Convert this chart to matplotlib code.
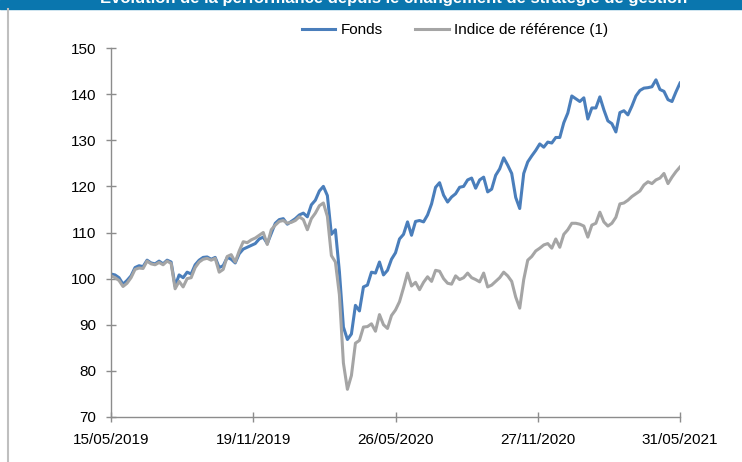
import matplotlib

matplotlib.use("Agg")

import matplotlib.pyplot as plt
from matplotlib.lines import Line2D
from matplotlib.patches import Rectangle
import numpy as np

# Values, one sample roughly every 4 px along the x axis
FONDS = [
    101.0, 100.8, 100.2, 98.8, 99.6, 100.6, 102.4, 102.8, 102.6, 104.0,
    103.4, 103.2, 103.8, 103.2, 104.0, 103.6, 98.4, 100.8, 100.2, 101.4,
    101.0, 103.0, 104.0, 104.6, 104.7, 104.2, 104.6, 102.4, 102.8, 104.6,
    104.2, 103.4, 105.4, 106.4, 106.8, 107.2, 107.6, 108.6, 109.0, 107.6,
    109.8, 112.0, 112.8, 113.0, 111.8, 112.4, 113.0, 113.8, 114.2, 113.4,
    116.0, 117.0, 119.0, 120.0, 118.0, 109.6, 110.6, 101.5, 89.5, 86.8,
    88.0, 94.2, 93.0, 98.2, 98.6, 101.4, 101.2, 103.6, 100.8, 101.8,
    104.2, 105.6, 108.6, 109.6, 112.3, 109.4, 112.4, 112.6, 112.3, 113.8,
    116.2, 119.8, 120.8, 118.1, 116.6, 117.7, 118.4, 119.8, 120.0, 121.4,
    121.8, 119.6, 121.4, 122.0, 118.8, 119.4, 122.4, 123.8, 126.2, 124.6,
    122.8, 117.6, 115.2, 122.8, 125.3, 126.6, 127.8, 129.2, 128.5, 129.6,
    129.4, 130.6, 130.6, 133.8, 135.9, 139.6, 139.0, 138.4, 139.2, 134.6,
    137.0, 137.0, 139.4, 136.6, 134.2, 133.6, 131.8, 136.0, 136.4, 135.5,
    137.4, 139.6, 140.8, 141.3, 141.4, 141.6, 143.1, 141.0, 140.6, 138.8,
    138.4, 140.5, 142.4,
]
INDICE = [
    100.6, 100.2, 99.6, 98.3, 99.0, 100.2, 102.0, 102.3, 102.2, 103.8,
    103.2, 103.0, 103.5, 103.0, 103.8, 103.3, 97.8, 99.4, 98.2, 100.0,
    100.2, 102.4, 103.6, 104.2, 104.4, 104.0, 104.4, 101.4, 102.0, 104.8,
    105.2, 103.6, 106.0, 108.0, 107.8, 108.4, 108.8, 109.4, 110.0, 107.4,
    110.6, 111.6, 112.4, 112.6, 112.0, 112.2, 112.6, 113.4, 112.8, 110.6,
    113.0, 114.2, 115.8, 116.4, 113.5, 105.0, 103.6, 96.5, 81.7, 76.0,
    79.0, 86.0, 86.6, 89.5, 89.6, 90.2, 88.6, 92.2, 90.0, 89.2,
    92.0, 93.2, 95.0, 98.0, 101.2, 98.4, 99.2, 97.6, 99.2, 100.4,
    99.4, 101.8, 101.6, 100.0, 99.0, 98.8, 100.6, 99.8, 100.2, 101.2,
    100.2, 99.8, 99.3, 101.2, 98.2, 98.6, 99.4, 100.2, 101.4, 100.6,
    99.4, 96.0, 93.6, 99.8, 104.0, 104.8, 106.0, 106.6, 107.3, 107.6,
    106.6, 108.6, 106.8, 109.6, 110.6, 112.0, 112.0, 111.8, 111.4, 109.0,
    111.6, 112.0, 114.4, 112.3, 111.4, 112.0, 113.3, 116.2, 116.4, 117.0,
    117.8, 118.4, 119.0, 120.3, 121.0, 120.6, 121.4, 121.8, 122.8, 120.6,
    122.0, 123.2, 124.2,
]
DATE_LABELS = ["15/05/2019", "19/11/2019", "26/05/2020", "27/11/2020", "31/05/2021"]
Y_TICKS = [70, 80, 90, 100, 110, 120, 130, 140, 150]
SERIES_NAMES = ["Fonds", "Indice de référence (1)"]
TITLE = "Évolution de la performance depuis le changement de stratégie de gestion"

BLUE = "#4A7EBB"
GREY = "#A5A5A5"
AXIS_GREY = "#8C8C8C"

plt.rcParams.update(
    {
        "font.family": ["Liberation Sans", "DejaVu Sans"],
        "font.size": 11,
    }
)


def main() -> None:
    assert len(FONDS) == len(INDICE)
    x = np.arange(len(FONDS))

    fig = plt.figure(figsize=(7.42, 4.62), dpi=100)
    ax = fig.add_axes([111 / 742, 1 - 417 / 462, 569 / 742, 369 / 462])

    # blue banner (title mostly cropped off, as in the source) and left frame line
    fig.patches.append(
        Rectangle((0, 1 - 9 / 462), 1, 9 / 462, transform=fig.transFigure,
                  color="#0A76AE", zorder=0)
    )
    fig.add_artist(
        Line2D([8 / 742, 8 / 742], [0, 1 - 9 / 462], transform=fig.transFigure,
               color="#BFBFBF", linewidth=1.5)
    )
    fig.text(0.53, 1 - 3 / 462, TITLE, color="white", fontsize=12,
             fontweight="bold", ha="center", va="baseline")

    ax.plot(x, FONDS, color=BLUE, linewidth=2.2, solid_joinstyle="round",
            label=SERIES_NAMES[0])
    ax.plot(x, INDICE, color=GREY, linewidth=2.2, solid_joinstyle="round",
            label=SERIES_NAMES[1])

    ax.set_xlim(0, len(x) - 1)
    ax.set_ylim(70, 150)
    ax.set_yticks(Y_TICKS)
    ax.set_xticks(np.linspace(0, len(x) - 1, len(DATE_LABELS)))
    ax.set_xticklabels(DATE_LABELS)

    for side in ("top", "right"):
        ax.spines[side].set_visible(False)
    for side in ("left", "bottom"):
        ax.spines[side].set_color(AXIS_GREY)
        ax.spines[side].set_linewidth(1.0)
    ax.tick_params(axis="both", direction="inout", length=7, width=1.0,
                   color=AXIS_GREY, labelcolor="black", labelsize=11)
    ax.tick_params(axis="y", pad=7)
    ax.tick_params(axis="x", pad=8)
    ax.set_facecolor("none")

    fig.legend(
        loc="center",
        bbox_to_anchor=(455 / 742, 1 - 30 / 462),
        ncol=2,
        frameon=False,
        handlelength=2.2,
        handletextpad=0.35,
        columnspacing=2.1,
        fontsize=11,
    )

    fig.savefig("out.png", dpi=100)
    plt.close(fig)


if __name__ == "__main__":
    main()
